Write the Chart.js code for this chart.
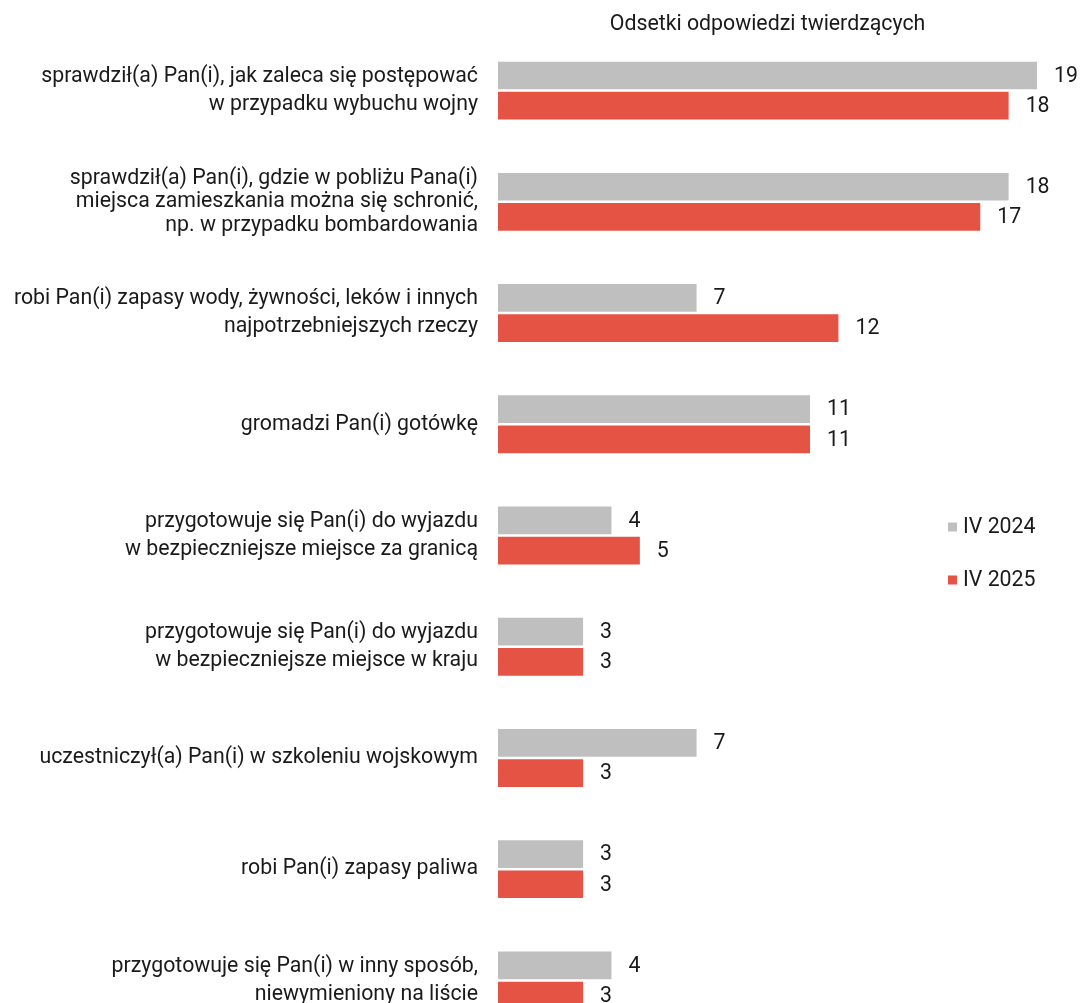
<!DOCTYPE html>
<html lang="pl">
<head>
<meta charset="utf-8">
<title>Odsetki odpowiedzi twierdzących</title>
<script src="https://cdn.jsdelivr.net/npm/chart.js@4.4.1/dist/chart.umd.min.js"></script>
<style>
  html, body { margin: 0; padding: 0; background: #fff; overflow: hidden; }
  #wrap { width: 1080px; height: 1040px; }
</style>
</head>
<body>
<div id="wrap"><canvas id="prepChart" width="1080" height="1040"></canvas></div>
<script>
/* ── Data ── */
const categories = [
  ['sprawdził(a) Pan(i), jak zaleca się postępować', 'w przypadku wybuchu wojny'],
  ['sprawdził(a) Pan(i), gdzie w pobliżu Pana(i)', 'miejsca zamieszkania można się schronić,', 'np. w przypadku bombardowania'],
  ['robi Pan(i) zapasy wody, żywności, leków i innych', 'najpotrzebniejszych rzeczy'],
  'gromadzi Pan(i) gotówkę',
  ['przygotowuje się Pan(i) do wyjazdu', 'w bezpieczniejsze miejsce za granicą'],
  ['przygotowuje się Pan(i) do wyjazdu', 'w bezpieczniejsze miejsce w kraju'],
  'uczestniczył(a) Pan(i) w szkoleniu wojskowym',
  'robi Pan(i) zapasy paliwa',
  ['przygotowuje się Pan(i) w inny sposób,', 'niewymieniony na liście'],
];
const seriesNames = ['IV 2024', 'IV 2025'];
const values2024  = [19, 18, 7, 11, 4, 3, 7, 3, 4];
const values2025  = [18, 17, 12, 11, 5, 3, 3, 3, 3];
const axisTitle   = 'Odsetki odpowiedzi twierdzących';

const GRAY = '#bfbfbf';
const RED  = '#e45343';
const TEXT = '#1a1a1a';
const FONT = 'Roboto, "Noto Sans", sans-serif';
const SIZE = 21.3;

/* ── Value labels right of each bar ── */
const valueLabels = {
  id: 'valueLabels',
  afterDatasetsDraw(chart) {
    const { ctx } = chart;
    ctx.save();
    ctx.font = `${SIZE}px ${FONT}`;
    ctx.fillStyle = TEXT;
    ctx.textAlign = 'left';
    ctx.textBaseline = 'middle';
    chart.data.datasets.forEach((ds, i) => {
      chart.getDatasetMeta(i).data.forEach((bar, j) => {
        ctx.fillText(String(ds.data[j]), bar.x + 17, bar.y + 1);
      });
    });
    ctx.restore();
  }
};

/* ── Legend floating in the empty right part ── */
const sideLegend = {
  id: 'sideLegend',
  afterDraw(chart) {
    const { ctx } = chart;
    ctx.save();
    ctx.font = `${SIZE}px ${FONT}`;
    ctx.textBaseline = 'middle';
    ctx.textAlign = 'left';
    chart.data.datasets.forEach((ds, i) => {
      const y = 527 + i * 53;
      ctx.fillStyle = ds.backgroundColor;
      ctx.fillRect(948, y - 4.5, 9, 9);
      ctx.fillStyle = TEXT;
      ctx.fillText(ds.label, 963, y + 1);
    });
    ctx.restore();
  }
};

/* ── Chart ── */
const ctx = document.getElementById('prepChart').getContext('2d');

new Chart(ctx, {
  type: 'bar',
  data: {
    labels: categories,
    datasets: [
      { label: seriesNames[0], data: values2024, backgroundColor: GRAY },
      { label: seriesNames[1], data: values2025, backgroundColor: RED },
    ]
  },
  options: {
    indexAxis: 'y',
    responsive: false,
    animation: false,
    categoryPercentage: 0.543,
    barPercentage: 0.917,
    layout: { padding: { left: 0, right: 43, top: 0, bottom: 4 } },
    plugins: {
      legend: { display: false },
      tooltip: { enabled: false },
    },
    scales: {
      x: {
        position: 'top',
        min: 0,
        max: 19,
        grid: { display: false, drawTicks: false },
        border: { display: false },
        ticks: { display: false },
        title: {
          display: true,
          text: axisTitle,
          color: TEXT,
          font: { family: FONT, size: SIZE },
          padding: { top: 12, bottom: 0 },
        },
        afterFit(scale) { scale.height = 35; },
      },
      y: {
        grid: { display: false, drawTicks: false },
        border: { display: false },
        ticks: {
          color: TEXT,
          padding: 20,
          font: (c) => ({
            family: FONT,
            size: SIZE,
            lineHeight: c.index === 1 ? 1.11 : 1.32,
          }),
        },
        afterFit(scale) {
          scale.width = 498;
          scale.paddingTop = 0;
          scale.paddingBottom = 0;
        },
      }
    }
  },
  plugins: [valueLabels, sideLegend]
});
</script>
</body>
</html>
